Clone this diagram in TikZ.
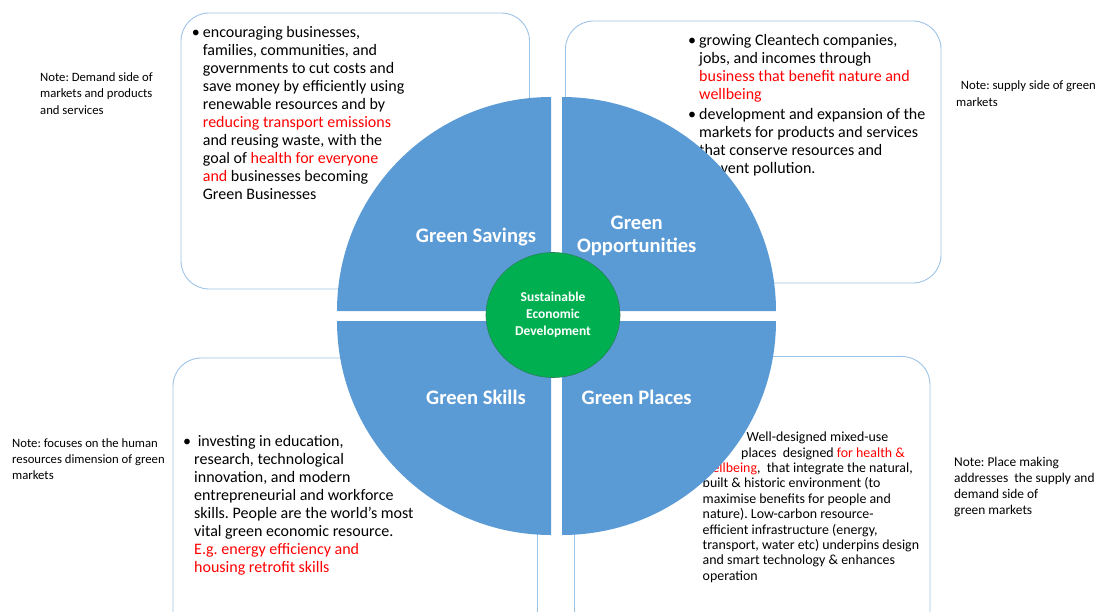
\documentclass[tikz,border=0pt]{standalone}
\usepackage{fontspec}
\setmainfont{Carlito}
\usetikzlibrary{shapes.geometric}
\frenchspacing

\definecolor{quadblue}{RGB}{91,155,213}
\definecolor{coregreen}{RGB}{0,176,80}
\definecolor{coreline}{RGB}{40,130,90}
\definecolor{boxblue}{RGB}{157,195,230}
\definecolor{hired}{RGB}{255,0,0}
\newcommand{\hitxt}[1]{\textcolor{hired}{#1}}
\newcommand{\bul}{\llap{\textbullet\hspace{3pt}}}

\begin{document}
\begin{tikzpicture}[x=1pt,y=-1pt,
  panel/.style={draw=boxblue,line width=0.9pt,rounded corners=28pt},
  body/.style={anchor=north west,inner sep=0pt,align=left,font=\fontsize{16}{18}\selectfont},
  placetext/.style={anchor=north west,inner sep=0pt,align=left,font=\fontsize{13.9}{15.4}\selectfont},
  note/.style={anchor=north west,inner sep=0pt,align=left,font=\fontsize{12.7}{16.3}\selectfont},
  quad/.style={fill=quadblue},
  qlabel/.style={text=white,align=center,inner sep=0pt,font=\fontsize{20.6}{22.4}\selectfont\bfseries}]

  \useasboundingbox (0,0) rectangle (1104,611);
  \clip (0,0) rectangle (1104,611);

  % panels behind the wheel
  \draw[panel] (181,13) rectangle (529.5,289);
  \draw[panel] (565.5,21) rectangle (941,283);
  \draw[panel] (173,358) rectangle (537.5,640);
  \draw[panel] (574.5,356.5) rectangle (930,640);

  \node[body] (savingsText) at (202.7,26) {\bul encouraging businesses,\\
    families, communities, and\\
    governments to cut costs and\\
    save money by efficiently using\\
    renewable resources and by\\
    \hitxt{reducing transport emissions}\\
    and reusing waste, with the\\
    goal of \hitxt{health for everyone}\\
    \hitxt{and} businesses becoming\\
    Green Businesses};

  \node[body] (oppText) at (699,34.2) {\bul growing Cleantech companies,\\
    jobs, and incomes through\\
    \hitxt{business that benefit nature and}\\
    \hitxt{wellbeing}\\[1.5pt]
    \bul development and expansion of the\\
    markets for products and services\\
    that conserve resources and\\
    prevent pollution.};

  \node[body] (skillsText) at (194,434.8) {\bul\ investing in education,\\
    research, technological\\
    innovation, and modern\\
    entrepreneurial and workforce\\
    skills. People are the world's most\\
    vital green economic resource.\\
    \hitxt{E.g. energy efficiency and}\\
    \hitxt{housing retrofit skills}};

  \node[placetext] (placesText) at (702.5,431.8) {\hspace{44pt}Well-designed mixed-use\\
    \hspace{38.5pt}places\ \ designed \hitxt{for health \&}\\
    \hitxt{wellbeing},\ \ that integrate the natural,\\
    built \& historic environment (to\\
    maximise benefits for people and\\
    nature). Low-carbon resource-\\
    efficient infrastructure (energy,\\
    transport, water etc) underpins design\\
    and smart technology \& enhances\\
    operation};

  % notes
  \node[note] (demandNote) at (40,72.5) {Note: Demand side of\\markets and products\\and services};
  \node[note] (supplyNote) at (956,80.8) {\hspace{4.7pt}Note: supply side of green\\markets};
  \node[note] (humanNote) at (12,438) {Note: focuses on the human\\resources dimension of green\\markets};
  \node[note,font=\fontsize{13.4}{15.9}\selectfont] (placeNote) at (954,457) {Note: Place making\\addresses\ \ the supply and\\demand side of\\green markets};

  % the wheel
  \fill[quad] (551,311) -- ++(180:214) arc[start angle=180,end angle=270,radius=214] -- cycle;
  \fill[quad] (562,311) -- ++(0:214) arc[start angle=0,end angle=-90,radius=214] -- cycle;
  \fill[quad] (551,321) -- ++(180:214) arc[start angle=180,end angle=90,radius=214] -- cycle;
  \fill[quad] (562,321) -- ++(0:214) arc[start angle=0,end angle=90,radius=214] -- cycle;

  \node[qlabel] (savings) at (476,237) {Green Savings};
  \node[qlabel] (opportunities) at (636.7,236) {Green\\Opportunities};
  \node[qlabel] (skills) at (476,397) {Green Skills};
  \node[qlabel] (places) at (636.7,397) {Green Places};

  \node[ellipse,fill=coregreen,draw=coreline,line width=0.6pt,inner sep=0pt,
        minimum width=134pt,minimum height=125pt,text=white,align=center,
        font=\fontsize{13.5}{16.7}\selectfont\bfseries] (core) at (553,315)
        {Sustainable\\Economic\\Development};
\end{tikzpicture}
\end{document}
